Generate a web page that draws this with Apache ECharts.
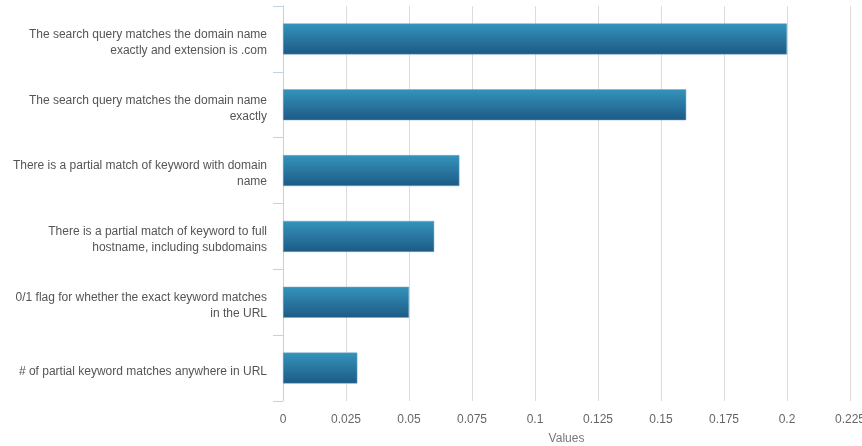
<!DOCTYPE html>
<html><head><meta charset="utf-8">
<script src="https://cdn.jsdelivr.net/npm/echarts@6/dist/echarts.min.js"></script>
<style>html,body{margin:0;padding:0;background:#fff}#c{width:862px;height:446px}</style>
</head><body><div id="c"></div>
<script>
const categories = [
  "The search query matches the domain name\nexactly and extension is .com",
  "The search query matches the domain name\nexactly",
  "There is a partial match of keyword with domain\nname",
  "There is a partial match of keyword to full\nhostname, including subdomains",
  "0/1 flag for whether the exact keyword matches\nin the URL",
  "# of partial keyword matches anywhere in URL"
];
const values = [0.2, 0.16, 0.07, 0.06, 0.05, 0.0295];
const xTicks = { min: 0, max: 0.225, interval: 0.025 };
const axisName = "Values";

const chart = echarts.init(document.getElementById('c'), null, {renderer: 'canvas'});
chart.setOption({
  animation: false,
  grid: { left: 283, right: 12, top: 6, bottom: 45, containLabel: false, outerBoundsMode: 'none' },
  xAxis: {
    type: 'value', min: xTicks.min, max: xTicks.max, interval: xTicks.interval,
    name: axisName, nameLocation: 'middle', nameGap: 32,
    nameTextStyle: { color: '#777', fontSize: 12, fontFamily: 'Liberation Sans, Arial, sans-serif' },
    axisLine: { show: false }, axisTick: { show: false },
    axisLabel: { color: '#666', fontSize: 12, margin: 13, fontFamily: 'Liberation Sans, Arial, sans-serif' },
    splitLine: { show: true, lineStyle: { color: '#dcdcdc', width: 1 } }
  },
  yAxis: {
    type: 'category', data: categories, inverse: true,
    axisLine: { show: true, lineStyle: { color: '#c4d2e0', width: 1 } },
    axisTick: { show: true, length: 10, lineStyle: { color: '#c4d2e0' } },
    axisLabel: { color: '#555', fontSize: 12, margin: 16, lineHeight: 16, align: 'right',
      formatter: v => '{s|}\n' + v,
      rich: { s: { lineHeight: 7, fontSize: 1 } },
      fontFamily: 'Liberation Sans, Arial, sans-serif' },
    splitLine: { show: false }
  },
  series: [{
    type: 'bar', data: values, barWidth: 31,
    itemStyle: {
      color: new echarts.graphic.LinearGradient(0, 0, 0, 1, [
        { offset: 0, color: '#3494bb' },
        { offset: 1, color: '#1d5a86' }
      ]),
      borderColor: '#6fa9c9', borderWidth: 0.5
    }
  }]
});
</script></body></html>
